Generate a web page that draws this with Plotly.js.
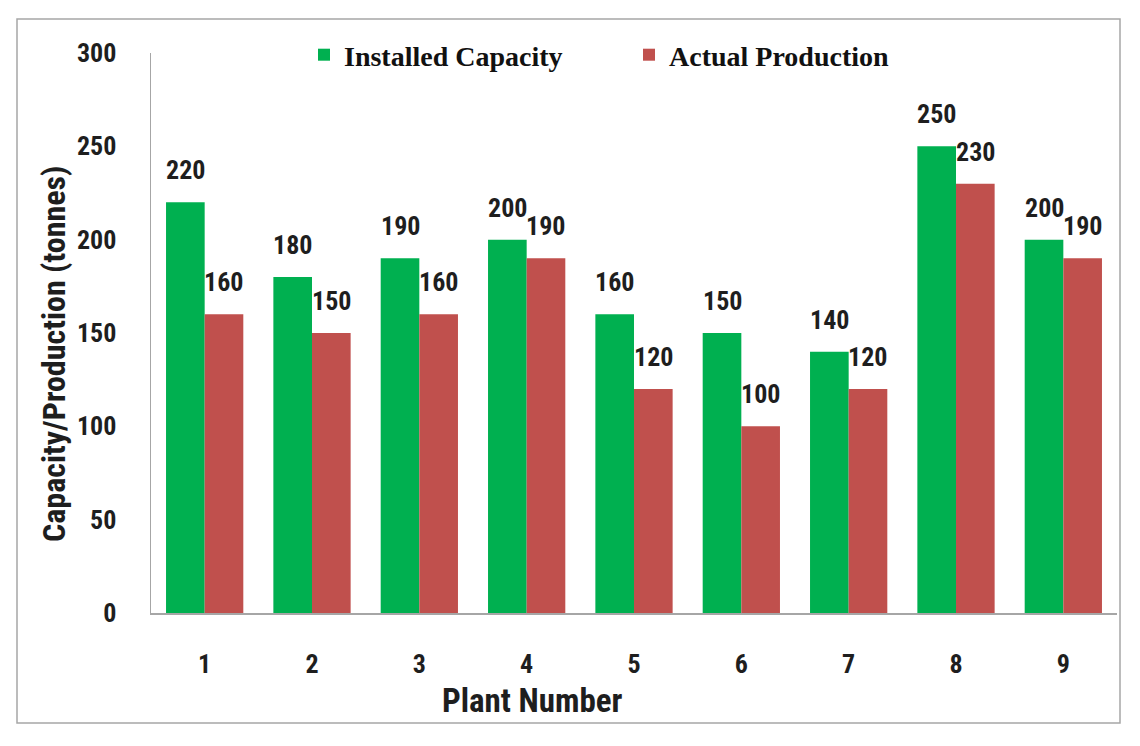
<!DOCTYPE html>
<html>
<head>
<meta charset="utf-8">
<script src="https://cdn.plot.ly/plotly-3.0.1.min.js"></script>
<style>
html,body{margin:0;padding:0;background:#fff;}
#chart{width:1140px;height:746px;}
</style>
</head>
<body>
<div id="chart"></div>
<script>
// ---- data ----
const plants = ['1','2','3','4','5','6','7','8','9'];
const installedCapacity = [220,180,190,200,160,150,140,250,200];
const actualProduction = [160,150,160,190,120,100,120,230,190];
const seriesNames = ['Installed Capacity','Actual Production'];
const yTicks = [0,50,100,150,200,250,300];

// ---- style ----
const W = 1140, H = 746;
const M = {l:151, r:23, t:53, b:133};
const bargap = 0.28;
const green = '#00B050', red = '#C0504D';
const sansBold = "'Liberation Sans Narrow', 'Arial Narrow', 'Roboto Condensed', 'Liberation Sans', sans-serif";
const labelColor = '#1e1e1e';

const plotW = W - M.l - M.r;
const plotH = H - M.t - M.b;
const barW = plotW / plants.length * (1 - bargap) / 2;
const px2x = p => (p - M.l) / plotW;
const px2y = p => (H - M.b - p) / plotH;

const traces = [
  {type:'bar', name:seriesNames[0], x:plants, y:installedCapacity,
   marker:{color:green}, hoverinfo:'skip'},
  {type:'bar', name:seriesNames[1], x:plants, y:actualProduction,
   marker:{color:red}, hoverinfo:'skip'}
];

const annotations = [];
[installedCapacity, actualProduction].forEach((vals, s) => {
  vals.forEach((v, i) => {
    annotations.push({
      x: i, y: v, xref:'x', yref:'y',
      xshift: (s === 0 ? -1 : 1) * barW / 2,
      yshift: 15, yanchor:'bottom', xanchor:'center',
      text: String(v), showarrow:false,
      font:{family:sansBold, size:26, color:labelColor, weight:'bold'}
    });
  });
});
// axis titles
annotations.push({
  xref:'paper', yref:'paper', x:px2x(532), y:px2y(700),
  text:'Plant Number', showarrow:false, xanchor:'center', yanchor:'middle',
  font:{family:sansBold, size:33, color:labelColor, weight:'bold'}
});
annotations.push({
  xref:'paper', yref:'paper', x:px2x(54), y:px2y(354),
  text:'Capacity/Production (tonnes)', showarrow:false, textangle:-90,
  xanchor:'center', yanchor:'middle',
  font:{family:sansBold, size:32, color:labelColor, weight:'bold'}
});

const layout = {
  width: W, height: H,
  margin: M,
  paper_bgcolor:'#fff', plot_bgcolor:'#fff',
  barmode:'group', bargap: bargap, bargroupgap: 0,
  showlegend:true,
  legend:{
    orientation:'h', x:px2x(304), xanchor:'left', y:px2y(55), yanchor:'middle',
    font:{family:"'Liberation Serif', 'Times New Roman', serif", size:28, color:'#111', weight:'bold'},
    entrywidth: 280, entrywidthmode:'pixels',
    bgcolor:'rgba(0,0,0,0)'
  },
  xaxis:{
    type:'category', range:[-0.5, plants.length - 0.5], autorange:false,
    showgrid:false, zeroline:false,
    showline:true, linecolor:'#a6a6a6', linewidth:1.5,
    ticks:'', ticklabelstandoff:27,
    tickfont:{family:sansBold, size:26, color:labelColor, weight:'bold'},
    fixedrange:true
  },
  yaxis:{
    range:[0,300], tickvals:yTicks, showgrid:false, zeroline:false,
    showline:true, linecolor:'#a6a6a6', linewidth:1.5,
    ticks:'', ticklabelstandoff:28,
    tickfont:{family:sansBold, size:26, color:labelColor, weight:'bold'},
    fixedrange:true
  },
  annotations: annotations,
  shapes:[{
    type:'rect', xref:'paper', yref:'paper',
    x0:px2x(17), x1:px2x(1120), y0:px2y(723), y1:px2y(19),
    line:{color:'#a6a6a6', width:1.5}, fillcolor:'rgba(0,0,0,0)', layer:'below'
  }]
};

Plotly.newPlot('chart', traces, layout, {displayModeBar:false, staticPlot:true});
</script>
</body>
</html>
